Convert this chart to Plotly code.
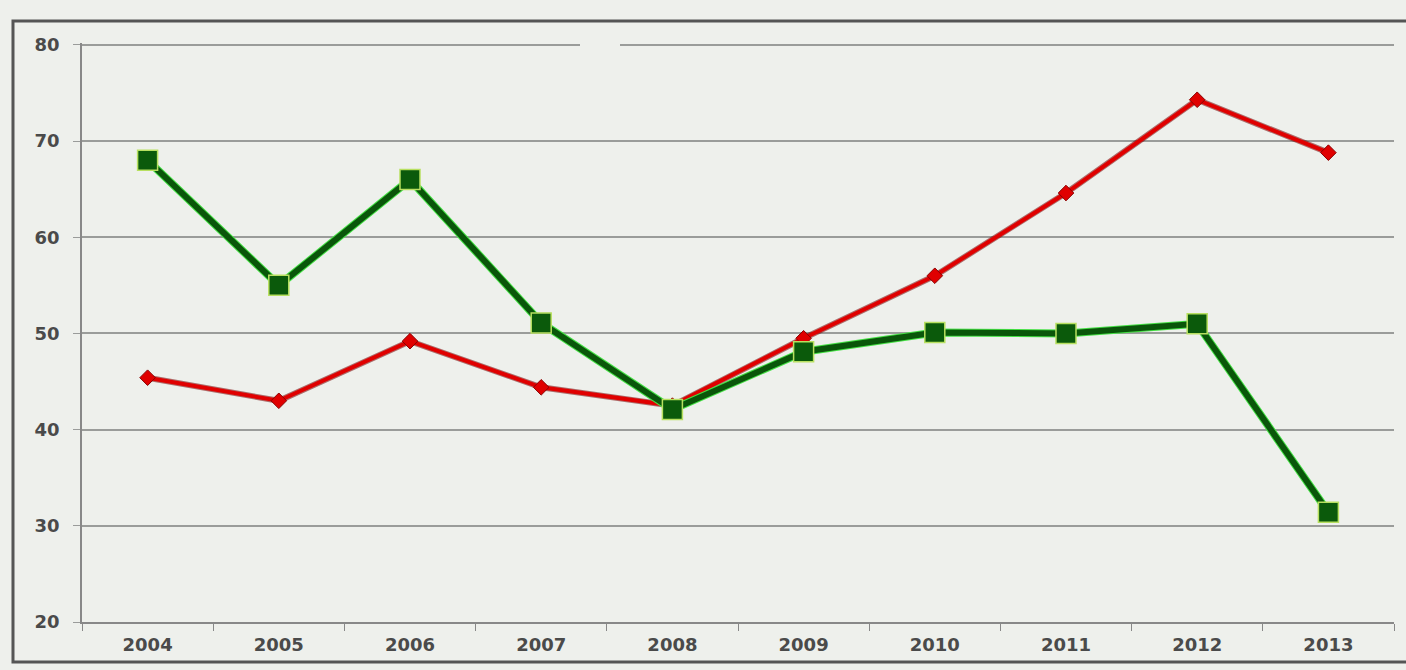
import plotly.graph_objects as go

years = ["2004", "2005", "2006", "2007", "2008", "2009", "2010", "2011", "2012", "2013"]
green_vals = [68.0, 55.0, 66.0, 51.1, 42.1, 48.1, 50.1, 50.0, 51.0, 31.4]
red_vals = [45.4, 43.0, 49.2, 44.4, 42.5, 49.5, 56.0, 64.6, 74.3, 68.8]
y_ticks = [20, 30, 40, 50, 60, 70, 80]

BG = "#eef0ec"
TXT = "#4a4a4a"
fig = go.Figure()

# red series (dark edge + line)
fig.add_trace(go.Scatter(x=years, y=red_vals, mode="lines", line=dict(color="rgba(120,0,0,0.55)", width=6),
                         hoverinfo="skip", showlegend=False))
fig.add_trace(go.Scatter(x=years, y=red_vals, mode="lines+markers", line=dict(color="#e00000", width=4),
                         marker=dict(symbol="diamond", size=12, color="#e00000", line=dict(color="#8a0000", width=1)),
                         showlegend=False))
# green series (glow + line)
fig.add_trace(go.Scatter(x=years, y=green_vals, mode="lines", line=dict(color="#44e044", width=8),
                         hoverinfo="skip", showlegend=False))
fig.add_trace(go.Scatter(x=years, y=green_vals, mode="lines+markers", line=dict(color="#0a560a", width=6),
                         marker=dict(symbol="square", size=20, color="#0b5a0b", line=dict(color="#b8e060", width=1.5)),
                         showlegend=False))

fig.update_layout(
    width=1406, height=670,
    margin=dict(l=82, r=12, t=43, b=48),
    paper_bgcolor=BG, plot_bgcolor=BG,
    font=dict(family="DejaVu Sans, Arial, sans-serif", size=18, color=TXT),
    xaxis=dict(type="category", tickson="boundaries", ticks="outside", ticklen=7, tickcolor="#888",
               showgrid=False, showline=True, linecolor="#888", linewidth=2, range=[-0.5, 9.5],
               tickfont=dict(family="DejaVu Sans", size=18, color=TXT, weight="bold"),
               ticklabelstandoff=5),
    yaxis=dict(range=[20, 80.2], tickvals=y_ticks, showgrid=True, gridcolor="#9a9c9a", gridwidth=1.5,
               ticks="outside", ticklen=7, tickcolor="#9a9c9a", showline=True, linecolor="#888", linewidth=1.5,
               zeroline=False, tickfont=dict(family="DejaVu Sans", size=18, color=TXT, weight="bold"),
               ticklabelstandoff=10),
    shapes=[
        dict(type="rect", xref="paper", yref="paper", x0=-0.0526, x1=1.02, y0=-0.069, y1=1.038,
             line=dict(color="#555", width=3), fillcolor="rgba(0,0,0,0)", layer="above"),
        dict(type="rect", xref="paper", yref="y", x0=(580-82)/1312, x1=(620-82)/1312, y0=79.6, y1=80.4,
             line=dict(width=0), fillcolor=BG, layer="above"),
    ],
)

fig.write_html("out.html", config={"displayModeBar": False},
               post_script="document.body.style.margin='0';document.body.style.background='%s';document.body.style.overflow='hidden';" % BG)
